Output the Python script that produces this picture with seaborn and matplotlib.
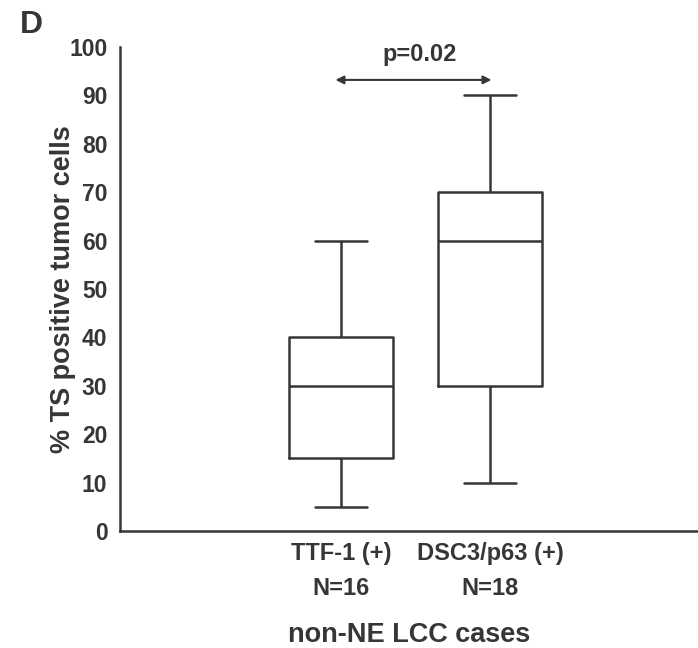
import matplotlib
matplotlib.use("Agg")
import matplotlib.pyplot as plt
import seaborn as sns
import pandas as pd

# Five-number summaries (min, Q1, median, Q3, max) of % TS positive tumor cells
categories = ["TTF-1 (+)", "DSC3/p63 (+)"]
n_cases = [16, 18]
ttf1_summary = [5, 15, 30, 40, 60]
dsc3_summary = [10, 30, 60, 70, 90]
y_ticks = [0, 10, 20, 30, 40, 50, 60, 70, 80, 90, 100]
p_text = "p=0.02"

sns.set_theme(style="white")
plt.rcParams["font.family"] = ["Liberation Sans", "DejaVu Sans"]
plt.rcParams["font.weight"] = "bold"

ink = "#363636"

df = pd.DataFrame({
    "group": [categories[0]] * len(ttf1_summary) + [categories[1]] * len(dsc3_summary),
    "value": ttf1_summary + dsc3_summary,
})

fig = plt.figure(figsize=(6.98, 6.48), dpi=100)
ax = fig.add_axes([120 / 698, (648 - 531) / 648, (698 - 120) / 698, (531 - 47) / 648])

sns.boxplot(data=df, x="group", y="value", order=categories, ax=ax,
            fill=False, color=ink, linecolor=ink, linewidth=1.8, width=0.7,
            whis=1.5, showfliers=False)

ax.set_ylim(0, 100)
ax.set_xlim(-1.49, 2.40)
ax.set_yticks(y_ticks)
ax.set_yticklabels([str(t) for t in y_ticks], fontsize=16.5, fontweight="bold", color=ink)
ax.set_xticks(range(len(categories)))
ax.set_xticklabels([f"{c}\nN={n}" for c, n in zip(categories, n_cases)],
                   fontsize=17, fontweight="bold", color=ink, linespacing=1.65)
ax.tick_params(axis="both", length=0)
ax.tick_params(axis="y", pad=9)
ax.tick_params(axis="x", pad=8)

for side in ["top", "right"]:
    ax.spines[side].set_visible(False)
for side in ["left", "bottom"]:
    ax.spines[side].set_color(ink)
    ax.spines[side].set_linewidth(1.8)

ax.set_ylabel("% TS positive tumor cells", fontsize=19.5, fontweight="bold", color=ink, labelpad=-5)
ax.set_xlabel("non-NE LCC cases", fontsize=19.5, fontweight="bold", color=ink, labelpad=16)

# significance bracket between the two groups
ax.annotate("", xy=(-0.04, 93.2), xytext=(1.01, 93.2),
            arrowprops=dict(arrowstyle="<|-|>", color=ink, lw=1.5, mutation_scale=12,
                            shrinkA=0, shrinkB=0))
ax.text(0.53, 96.0, p_text, ha="center", va="bottom", fontsize=17, fontweight="bold", color=ink)

fig.text(20 / 698, 1 - 33 / 648, "D", fontsize=23, fontweight="bold", color=ink, ha="left", va="baseline")

fig.savefig("out.png", dpi=100)
